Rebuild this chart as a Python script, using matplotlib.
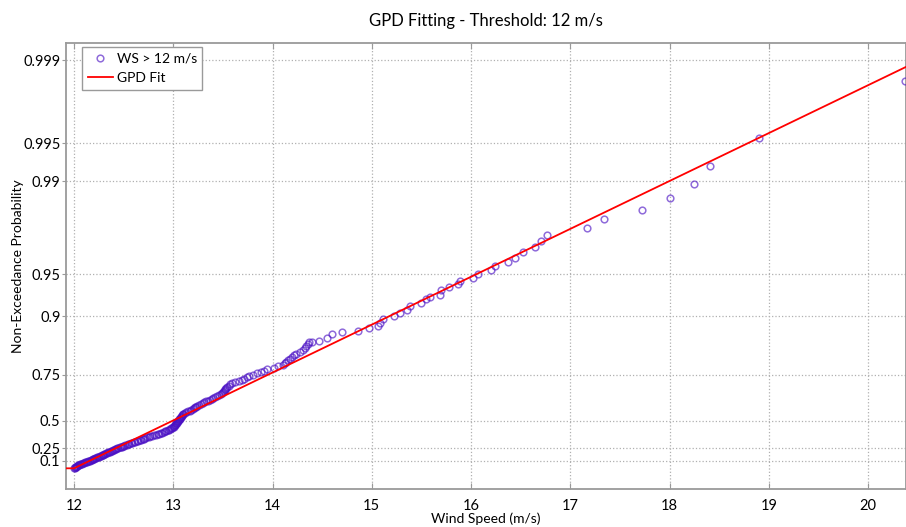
import numpy as np
import matplotlib
matplotlib.use("Agg")
import matplotlib.pyplot as plt

# Data points
# dense part: wind speed at non-exceedance probability 0.005, 0.010, ... 0.845
ws_dense = [
    12.00, 12.01, 12.01, 12.02, 12.02, 12.03, 12.03, 12.04, 12.05, 12.05,
    12.06, 12.07, 12.08, 12.09, 12.10, 12.11, 12.12, 12.13, 12.14, 12.15,
    12.16, 12.17, 12.18, 12.19, 12.19, 12.20, 12.21, 12.22, 12.23, 12.24,
    12.25, 12.26, 12.27, 12.28, 12.29, 12.29, 12.30, 12.31, 12.32, 12.33,
    12.34, 12.35, 12.36, 12.37, 12.38, 12.39, 12.40, 12.41, 12.42, 12.43,
    12.44, 12.46, 12.47, 12.48, 12.49, 12.50, 12.51, 12.53, 12.54, 12.55,
    12.57, 12.58, 12.60, 12.61, 12.63, 12.64, 12.66, 12.67, 12.69, 12.70,
    12.72, 12.74, 12.76, 12.77, 12.79, 12.81, 12.83, 12.85, 12.86, 12.88,
    12.89, 12.91, 12.92, 12.93, 12.95, 12.96, 12.97, 12.98, 12.99, 13.00,
    13.01, 13.01, 13.02, 13.02, 13.03, 13.03, 13.04, 13.04, 13.05, 13.05,
    13.06, 13.06, 13.07, 13.07, 13.08, 13.08, 13.09, 13.09, 13.10, 13.10,
    13.12, 13.13, 13.15, 13.17, 13.18, 13.20, 13.21, 13.22, 13.23, 13.24,
    13.26, 13.28, 13.30, 13.31, 13.33, 13.35, 13.37, 13.39, 13.40, 13.42,
    13.44, 13.46, 13.48, 13.49, 13.50, 13.51, 13.52, 13.52, 13.53, 13.54,
    13.56, 13.57, 13.59, 13.62, 13.66, 13.69, 13.71, 13.74, 13.76, 13.80,
    13.84, 13.88, 13.91, 13.94, 14.01, 14.06, 14.11, 14.13, 14.14, 14.16,
    14.18, 14.20, 14.22, 14.24, 14.28, 14.31, 14.33, 14.34, 14.36,
]
p_dense = np.arange(1, len(ws_dense) + 1) * 0.005

# upper tail, read point by point
ws_tail = [14.37, 14.40, 14.47, 14.55, 14.60, 14.70, 14.86, 14.97, 15.06, 15.08,
           15.11, 15.22, 15.28, 15.35, 15.39, 15.50, 15.55, 15.59, 15.69, 15.70,
           15.78, 15.87, 15.89, 16.02, 16.07, 16.20, 16.24, 16.37, 16.44, 16.52,
           16.64, 16.71, 16.77, 17.17, 17.34, 17.72, 18.01, 18.25, 18.41, 18.90,
           20.37]
p_tail = [0.849, 0.851, 0.853, 0.858, 0.868, 0.871, 0.874, 0.880, 0.884, 0.889,
          0.896, 0.900, 0.905, 0.910, 0.915, 0.919, 0.925, 0.927, 0.929, 0.9348,
          0.9379, 0.9409, 0.9439, 0.9470, 0.9500, 0.9530, 0.9561, 0.9591, 0.9621, 0.9652,
          0.9682, 0.9712, 0.9742, 0.9773, 0.9803, 0.9833, 0.9864, 0.9894, 0.9924, 0.9955,
          0.9985]

# fitted GPD line (straight on this paper)
fit_ws = [11.90, 12.00, 20.40]
fit_p = [0.0, 0.0, 0.99888]

y_ticks = [0.1, 0.25, 0.5, 0.75, 0.9, 0.95, 0.99, 0.995, 0.999]
y_tick_labels = ['0.1', '0.25', '0.5', '0.75', '0.9', '0.95', '0.99', '0.995', '0.999']
x_ticks = [12, 13, 14, 15, 16, 17, 18, 19, 20]

# probability paper for the GPD fit (shape -0.05)
XI = 0.05


def to_paper(p):
    q = np.clip(1 - np.asarray(p, dtype=float), 1e-12, None)
    return (1 - np.power(q, XI)) / XI


def from_paper(g):
    q = np.clip(1 - XI * np.asarray(g, dtype=float), 1e-12, None)
    return 1 - np.power(q, 1 / XI)


plt.rcParams['font.family'] = ['Lato', 'DejaVu Sans']

fig = plt.figure(figsize=(9.06, 5.27), dpi=100)
ax = fig.add_axes([66 / 906, 1 - 489 / 527, 1 - 66 / 906, (489 - 43) / 527])
ax.set_yscale('function', functions=(to_paper, from_paper))

ws_all = list(ws_dense) + ws_tail
p_all = list(p_dense) + p_tail
ax.plot(ws_all, p_all, 'o', ms=4.8, mfc='none', mec='#4a10c4', mew=1.1, alpha=0.62,
        label='WS > 12 m/s', zorder=3)
ax.plot(fit_ws, fit_p, '-', color='#ff0000', lw=1.3, label='GPD Fit', zorder=4)

ax.set_xlim(11.919, 20.383)
ax.set_ylim(-0.342, 0.99930)
ax.set_xticks(x_ticks)
ax.set_yticks(y_ticks)
ax.set_yticklabels(y_tick_labels)
ax.minorticks_off()

ax.grid(True, linestyle=':', color='#b0b0b0', lw=0.9)
for s in ax.spines.values():
    s.set_color('#9a9a9a')
    s.set_linewidth(1.3)
ax.tick_params(axis='x', direction='in', top=True, length=4, color='#9a9a9a',
               labelsize=10.5, pad=7)
ax.tick_params(axis='y', direction='out', length=3, color='#9a9a9a', labelsize=10.5,
               pad=1)

ax.set_xlabel('Wind Speed (m/s)', fontsize=10, labelpad=0)
ax.set_ylabel('Non-Exceedance Probability', fontsize=10)
ax.yaxis.set_label_coords(-0.05, 0.5)
ax.set_title('GPD Fitting - Threshold: 12 m/s', fontsize=12, pad=12)

leg = ax.legend(loc='upper left', bbox_to_anchor=(0.019, 0.991), borderaxespad=0,
                fancybox=False, framealpha=1, edgecolor='#9a9a9a', fontsize=10,
                handlelength=1.8, handletextpad=0.3, borderpad=0.4, labelspacing=0.55)
leg.get_frame().set_linewidth(1.0)

fig.savefig('out.png', dpi=100)
